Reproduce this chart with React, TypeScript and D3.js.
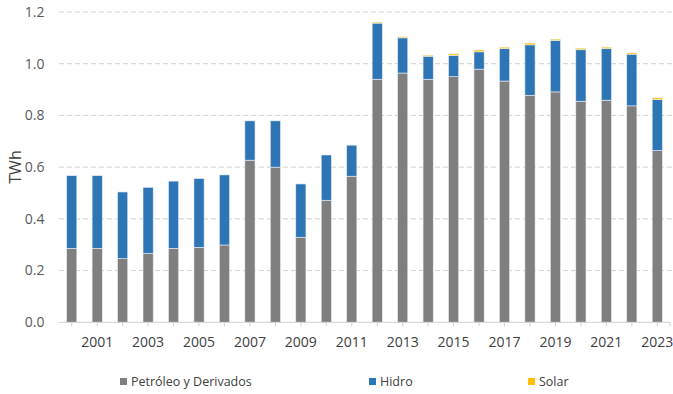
import React from "react";
import * as d3 from "d3";

const years = d3.range(2000, 2024).map(String);
const petroleo = [0.286, 0.286, 0.246, 0.267, 0.286, 0.290, 0.299, 0.627, 0.600, 0.329, 0.472, 0.565, 0.940, 0.964, 0.940, 0.950, 0.979, 0.933, 0.878, 0.891, 0.855, 0.859, 0.837, 0.664];
const hidro = [0.281, 0.281, 0.258, 0.255, 0.260, 0.266, 0.271, 0.152, 0.179, 0.206, 0.175, 0.120, 0.217, 0.136, 0.089, 0.082, 0.067, 0.125, 0.195, 0.199, 0.199, 0.199, 0.200, 0.197];
const solar = [0, 0, 0, 0, 0, 0, 0, 0, 0, 0, 0, 0, 0.004, 0.004, 0.004, 0.006, 0.007, 0.006, 0.007, 0.005, 0.006, 0.006, 0.005, 0.007];
const yTicks = [0, 0.2, 0.4, 0.6, 0.8, 1.0, 1.2];
const seriesNames = ["Petróleo y Derivados", "Hidro", "Solar"];
const colors = ["#7f7f7f", "#2e75b6", "#ffc000"];

const W = 673, H = 394;
const FONT = "'Open Sans', 'Noto Sans', sans-serif";

export default function App() {
  const x = d3.scaleBand().domain(years).range([59, 670]).paddingInner(0.6).paddingOuter(0.3);
  const y = d3.scaleLinear().domain([0, 1.2]).range([322.3, 12]);
  const table = years.map((yr, i) => ({ year: yr, p: petroleo[i], h: hidro[i], s: solar[i] }));
  const stacked = d3.stack<any>().keys(["p", "h", "s"])(table);
  const legendX = [120, 369, 528];
  return (
    <svg width={W} height={H} style={{ position: "absolute", left: 0, top: 0, background: "#fff" }}>
      {yTicks.map((t) => (
        <g key={t}>
          {t > 0 && (
            <line x1={59} x2={673} y1={y(t)} y2={y(t)} stroke="#d0d0d0" strokeWidth={1} strokeDasharray="5,3" />
          )}
          <text x={44.5} y={y(t)} dy="0.35em" textAnchor="end" fontFamily={FONT} fontSize={14} fill="#595959">
            {d3.format(".1f")(t)}
          </text>
        </g>
      ))}
      {stacked.map((layer, li) => (
        <g key={li} fill={colors[li]}>
          {layer.map((d: any, i: number) =>
            d[1] - d[0] > 0 ? (
              <rect key={i} x={x(years[i])!} width={x.bandwidth()} y={y(d[1])} height={y(d[0]) - y(d[1])} stroke="#e8eef5" strokeWidth={0.6} />
            ) : null
          )}
        </g>
      ))}
      <line x1={59} x2={670} y1={y(0)} y2={y(0)} stroke="#d0d0d0" strokeWidth={1} />
      {years.map((yr) => (
        <line key={yr} x1={x(yr)! + x.bandwidth() / 2} x2={x(yr)! + x.bandwidth() / 2} y1={y(0)} y2={y(0) + 4} stroke="#d0d0d0" />
      ))}
      <line x1={670} x2={670} y1={y(0)} y2={y(0) + 4} stroke="#d0d0d0" />
      {years.filter((_, i) => i % 2 === 1).map((yr) => (
        <text key={yr} x={x(yr)! + x.bandwidth() / 2} y={347.3} textAnchor="middle" fontFamily={FONT} fontSize={14} fill="#404040">
          {yr}
        </text>
      ))}
      <text transform={`translate(21,167) rotate(-90)`} textAnchor="middle" fontFamily={FONT} fontSize={16} fill="#404040">
        TWh
      </text>
      {seriesNames.map((n, i) => {
        const lx = legendX[i];
        return (
          <g key={n}>
            <rect x={lx} y={378} width={7} height={7} fill={colors[i]} />
            <text x={lx + 11} y={386} fontFamily={FONT} fontSize={12.5} fill="#404040">{n}</text>
          </g>
        );
      })}
    </svg>
  );
}
